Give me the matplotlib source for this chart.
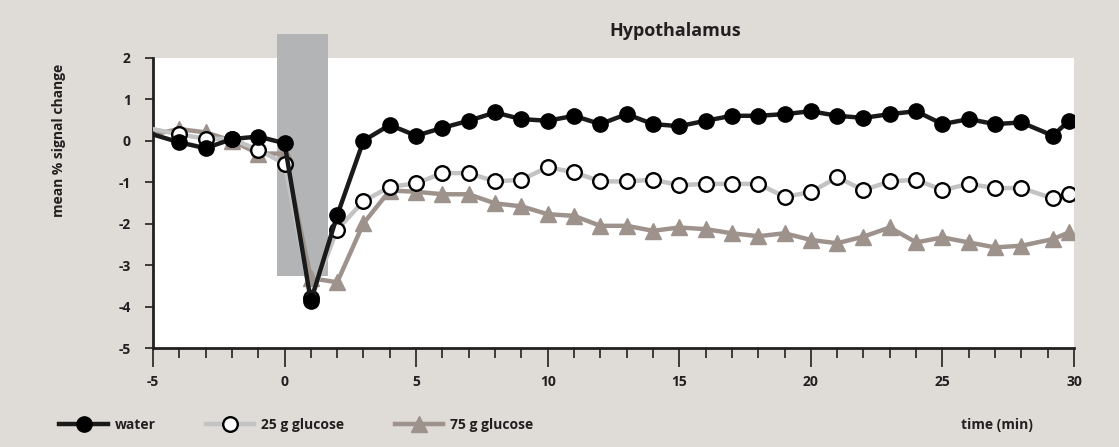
import numpy as np
import matplotlib
matplotlib.use("Agg")
import matplotlib.pyplot as plt
from matplotlib.patches import Rectangle
from matplotlib.ticker import MultipleLocator

plt.rcParams['font.family'] = ['Open Sans', 'DejaVu Sans']
plt.rcParams['font.weight'] = 'bold'
plt.rcParams['axes.unicode_minus'] = False

# time points (min); first point only feeds the line coming in from the left edge
t = [-5, -4, -3, -2, -1, 0, 1, 2, 3, 4, 5, 6, 7, 8, 9, 10, 11, 12, 13, 14, 15,
     16, 17, 18, 19, 20, 21, 22, 23, 24, 25, 26, 27, 28, 29.2, 29.8]

water = [0.15, -0.04, -0.18, 0.04, 0.1, -0.06, -3.86, -1.8, 0.0, 0.38, 0.12, 0.31,
         0.48, 0.68, 0.52, 0.48, 0.6, 0.4, 0.64, 0.4, 0.35, 0.48, 0.6, 0.6, 0.64,
         0.71, 0.6, 0.55, 0.64, 0.71, 0.4, 0.52, 0.4, 0.44, 0.12, 0.48]

gluc25 = [0.28, 0.15, 0.05, 0.04, -0.22, -0.55, -3.78, -2.14, -1.46, -1.11, -1.03,
          -0.78, -0.78, -0.98, -0.94, -0.64, -0.76, -0.98, -0.98, -0.94, -1.07,
          -1.04, -1.04, -1.04, -1.35, -1.24, -0.88, -1.19, -0.98, -0.94, -1.19,
          -1.04, -1.14, -1.14, -1.39, -1.29]

gluc75 = [0.15, 0.28, 0.2, 0.0, -0.31, -0.31, -3.31, -3.41, -1.99, -1.2, -1.23,
          -1.29, -1.29, -1.51, -1.58, -1.77, -1.81, -2.05, -2.05, -2.17, -2.09,
          -2.13, -2.23, -2.3, -2.23, -2.39, -2.47, -2.31, -2.09, -2.45, -2.33,
          -2.45, -2.57, -2.53, -2.37, -2.21]

# stimulus (drink) period
stim_x = [-0.3, 1.67]
stim_y = [-3.27, 2.58]

bg = '#dfdbd7'
ink = '#231f20'
fig = plt.figure(figsize=(11.19, 4.47), dpi=100, facecolor=bg)
ax = fig.add_axes([0.1367, 0.2208, 0.8231, 0.6502])
ax.set_facecolor('white')

ax.add_patch(Rectangle((stim_x[0], stim_y[0]), stim_x[1] - stim_x[0], stim_y[1] - stim_y[0],
                       facecolor='#b3b4b6', edgecolor='none', clip_on=False, zorder=1))

mk = slice(1, None)
l75, = ax.plot(t, gluc75, color='#9e938c', lw=3.2, marker='^', ms=11.5, markevery=mk,
               mec='#9e938c', zorder=2)
l25, = ax.plot(t, gluc25, color='#c3c3c3', lw=3.2, marker='o', ms=10.5, markevery=mk,
               mfc='white', mec='black', mew=1.7, zorder=3)
lw_, = ax.plot(t, water, color='#1a1a1a', lw=3.2, marker='o', ms=11, markevery=mk,
               mfc='black', mec='black', zorder=4)

ax.set_xlim(-5, 30)
ax.set_ylim(-5, 2)
ax.xaxis.set_major_locator(MultipleLocator(5))
ax.xaxis.set_minor_locator(MultipleLocator(1))
ax.yaxis.set_major_locator(MultipleLocator(1))

for s in ['top', 'right']:
    ax.spines[s].set_visible(False)
for s in ['left', 'bottom']:
    ax.spines[s].set_linewidth(2)
    ax.spines[s].set_color(ink)

ax.tick_params(axis='x', which='major', length=14, width=1.2, color=ink,
               labelsize=10, pad=5)
ax.tick_params(axis='x', which='minor', length=7, width=1.2, color=ink)
ax.tick_params(axis='y', which='major', length=6, width=1.2, color=ink,
               labelsize=10, pad=10)
for lab in ax.get_xticklabels() + ax.get_yticklabels():
    lab.set_fontweight('bold')
    lab.set_color(ink)

fig.text(0.053, 0.685, 'mean % signal change', rotation=90, ha='center', va='center',
         fontsize=10, fontweight='bold', color=ink)
fig.text(0.603, 0.93, 'Hypothalamus', ha='center', va='center',
         fontsize=13, fontweight='bold', color=ink)
fig.text(0.891, 0.049, 'time (min)', ha='center', va='center',
         fontsize=10, fontweight='bold', color=ink)

fig.legend([lw_, l25, l75], ['water', '25 g glucose', '75 g glucose'],
           loc='center left', bbox_to_anchor=(0.053, 0.049), ncol=3, frameon=False,
           fontsize=10, handlelength=3.5, handletextpad=0.5, columnspacing=3.6,
           borderpad=0, borderaxespad=0, labelcolor=ink)

fig.savefig('out.png', dpi=100, facecolor=bg)
